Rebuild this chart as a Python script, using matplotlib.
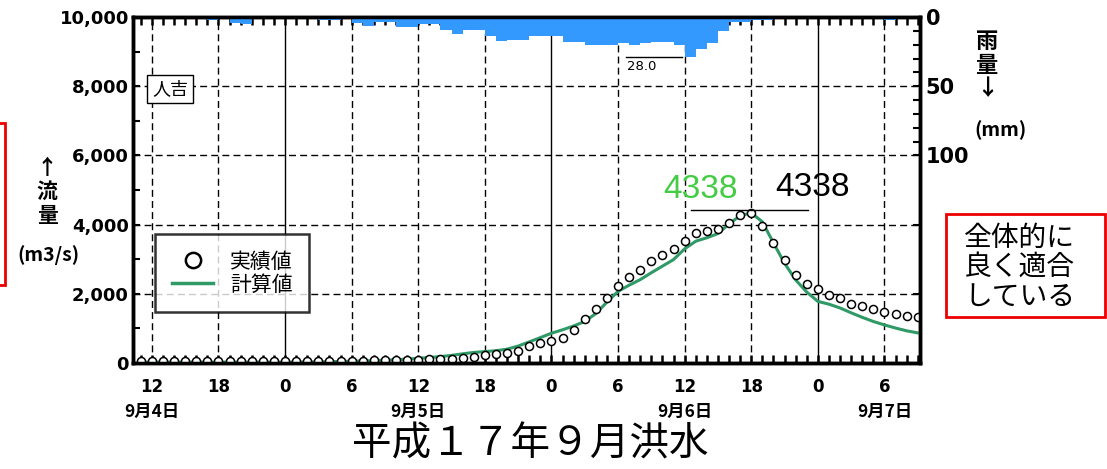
import matplotlib
matplotlib.use("Agg")
import matplotlib.pyplot as plt
from matplotlib.lines import Line2D
from matplotlib.patches import Rectangle

plt.rcParams['font.family'] = ['Noto Sans CJK JP', 'DejaVu Sans']

# ---------------- data ----------------
# hours counted from 2005-09-04 00:00
obs_hours = list(range(11, 82))
obs_flow = [60] * 20 + [
    70, 80, 85, 85, 90, 95, 107, 125, 130, 155,
    185, 222, 261, 300, 358, 493, 570, 648, 715, 957,
    1276, 1557, 1876, 2213, 2485, 2697, 2938, 3132, 3306, 3518,
    3760, 3808, 3876, 4050, 4272, 4338, 3953, 3471, 2987, 2552,
    2282, 2137, 1972, 1876, 1702, 1653, 1557, 1488, 1421, 1372, 1325]

calc_hours = list(range(11, 82))
calc_flow = [25] * 14 + [
    28, 30, 33, 38, 45, 52, 60, 70, 82, 95,
    112, 135, 160, 185, 220, 265, 305, 330, 355, 400,
    490, 610, 735, 860, 960, 1070, 1200, 1430, 1760, 2070,
    2250, 2410, 2610, 2800, 2990, 3300, 3520, 3620, 3740, 4020,
    4260, 4338, 4080, 3470, 2880, 2400, 2050, 1780, 1700, 1590,
    1450, 1320, 1200, 1100, 1010, 930, 870]

rain_hours = list(range(10, 81))
rain_mm = [0, 0, 0, 0, 0, 0, 0, 2.5, 0, 4.5,
           5, 0, 0, 0, 0, 0, 0, 2, 2, 0,
           4.5, 6.5, 3.5, 3.5, 7, 7, 5, 5, 9.5, 12,
           9.5, 9.5, 14, 17, 16.5, 16.5, 14, 14, 14, 18,
           18, 20, 20, 20, 18.5, 20, 19, 18, 18, 20,
           28.8, 23, 19, 10, 3.5, 3.5, 2, 2, 1.5, 1.5,
           1.5, 1.5, 0, 0, 0, 0, 0, 0, 2, 0, 0]

x_ticks = [12, 18, 24, 30, 36, 42, 48, 54, 60, 66, 72, 78]
x_tick_labels = ['12', '18', '0', '6', '12', '18', '0', '6', '12', '18', '0', '6']
date_hours = [12, 36, 60, 78]
date_labels = ['9月4日', '9月5日', '9月6日', '9月7日']
flow_ticks = [0, 2000, 4000, 6000, 8000, 10000]
flow_tick_labels = ['0', '2,000', '4,000', '6,000', '8,000', '10,000']
rain_ticks = [0, 50, 100, 150, 200]
rain_tick_labels = ['0', '50', '100', '', '']
peak_label = '4338'
rain_max_label = '28.0'

GREEN = '#2f9a66'
BLUE = '#3399ff'

# ---------------- figure ----------------
W, H = 1107, 469
fig = plt.figure(figsize=(W / 100, H / 100), dpi=100)
ax = fig.add_axes([133 / W, 1 - 363 / H, (920 - 133) / W, (363 - 17) / H])

xmin, xmax = 10.3, 81.2
ax.set_xlim(xmin, xmax)
ax.set_ylim(0, 10000)

# grid
for h in x_ticks:
    if h % 24 == 0:
        ax.axvline(h, color='black', lw=1.0, zorder=1)
    else:
        ax.axvline(h, color='black', lw=1.0, ls=(0, (5, 3)), zorder=1)
for v in flow_ticks[1:-1]:
    ax.axhline(v, color='black', lw=1.0, ls=(0, (5, 3)), zorder=1)

ax.plot(calc_hours, calc_flow, color=GREEN, lw=2.2, zorder=3)
ax.plot(obs_hours, obs_flow, ls='none', marker='o', ms=5.8, mfc='white',
        mec='black', mew=1.1, zorder=4)

# axes styling
for s in ['left', 'right', 'bottom', 'top']:
    ax.spines[s].set_linewidth(2.5)
ax.set_xticks(x_ticks)
ax.set_xticklabels(x_tick_labels, fontsize=12, fontweight='bold', family=['DejaVu Sans'])
ax.set_xticks(range(11, 82), minor=True)
ax.tick_params(axis='x', which='both', direction='in', top=True, bottom=True,
               length=6, width=1.8, pad=11)
ax.set_yticks(flow_ticks)
ax.set_yticklabels(flow_tick_labels, fontsize=13, fontweight='bold', family=['DejaVu Sans'])
ax.set_yticks(range(1000, 10000, 2000), minor=True)
ax.tick_params(axis='y', which='both', direction='in', length=5, width=1.5, pad=3)

# rain axis
ax2 = ax.twinx()
ax2.set_ylim(250, 0)
ax2.bar(rain_hours, rain_mm, width=1.0, align='edge', color=BLUE, lw=0, zorder=2)
ax2.set_yticks(rain_ticks)
ax2.set_yticklabels(rain_tick_labels, fontsize=15, fontweight='bold', family=['DejaVu Sans'])
ax2.set_yticks(range(10, 100, 10), minor=True)
ax2.tick_params(axis='y', which='both', direction='in', length=5, width=1.5, pad=4)
for s in ['left', 'right', 'bottom', 'top']:
    ax2.spines[s].set_linewidth(2.5)

# max rain annotation
imax = rain_mm.index(max(rain_mm))
ax2.plot([rain_hours[imax] - 5.3, rain_hours[imax] - 0.25], [max(rain_mm)] * 2,
         color='black', lw=1.0)
ax2.text(rain_hours[imax] - 5.2, max(rain_mm) + 7, rain_max_label, fontsize=9.5,
         va='center', ha='left', family=['DejaVu Sans'])

# peak annotation
pk = max(obs_flow)
ph = obs_hours[obs_flow.index(pk)]
ax.plot([ph - 5.4, ph + 5.1], [pk + 70] * 2, color='black', lw=1.0, zorder=5)
ax.text(ph - 4.6, pk + 690, peak_label, color='#44cc44', fontsize=24,
        ha='center', va='center', family=['Liberation Sans'])
ax.text(ph + 5.5, pk + 740, peak_label, color='black', fontsize=24,
        ha='center', va='center', family=['Liberation Sans'])

# station label
ax.text(0.047, 0.792, '人吉', transform=ax.transAxes, fontsize=13, ha='center', va='center',
        bbox=dict(boxstyle='square,pad=0.3', fc='white', ec='black', lw=1.0), zorder=6)

# legend
handles = [Line2D([], [], ls='none', marker='o', ms=11, mfc='white', mec='black', mew=1.8),
           Line2D([], [], color=GREEN, lw=2.5)]
leg = ax.legend(handles, ['実績値', '計算値'], loc='lower left', bbox_to_anchor=(0.028, 0.147),
                fontsize=15, frameon=True, fancybox=False, borderpad=0.8, labelspacing=0.05,
                handlelength=2.0, handletextpad=0.8, borderaxespad=0)
leg.get_frame().set_edgecolor('black')
leg.get_frame().set_linewidth(1.8)
leg.set_zorder(10)

# axis labels
def fx(px):
    return px / W

def fy(py):
    return 1 - py / H

fig.text(fx(47), fy(168), '↑', fontsize=15, fontweight='bold', ha='center', va='center')
fig.text(fx(47), fy(191), '流', fontsize=15, fontweight='bold', ha='center', va='center')
fig.text(fx(47), fy(215), '量', fontsize=15, fontweight='bold', ha='center', va='center')
fig.text(fx(48), fy(255), '(m3/s)', fontsize=14, fontweight='bold', ha='center', va='center')

fig.text(fx(987), fy(42), '雨', fontsize=16, fontweight='bold', ha='center', va='center')
fig.text(fx(987), fy(65), '量', fontsize=16, fontweight='bold', ha='center', va='center')
fig.text(fx(987), fy(89), '↓', fontsize=16, fontweight='bold', ha='center', va='center')
fig.text(fx(1000), fy(130), '(mm)', fontsize=14, fontweight='bold', ha='center', va='center')

# date labels
for h, lab in zip(date_hours, date_labels):
    xp = ax.transData.transform((h, 0))[0] / W
    fig.text(xp, fy(412), lab, fontsize=12.5, fontweight='bold', ha='center', va='center')

# title
fig.text(fx(530), fy(444), '平成１７年９月洪水', fontsize=28.5, ha='center', va='center')

# red boxes
fig.patches.append(Rectangle((fx(-20), fy(285)), (25) / W, (285 - 123) / H,
                             transform=fig.transFigure, fill=False, ec='#ee0000', lw=2))
fig.patches.append(Rectangle((fx(946), fy(317)), (1105 - 946) / W, (317 - 214) / H,
                             transform=fig.transFigure, fill=False, ec='#ee0000', lw=2))
fig.text(fx(964), fy(267), '全体的に\n良く適合\nしている', fontsize=20, ha='left', va='center',
         linespacing=0.98)

fig.savefig('out.png', dpi=100)
